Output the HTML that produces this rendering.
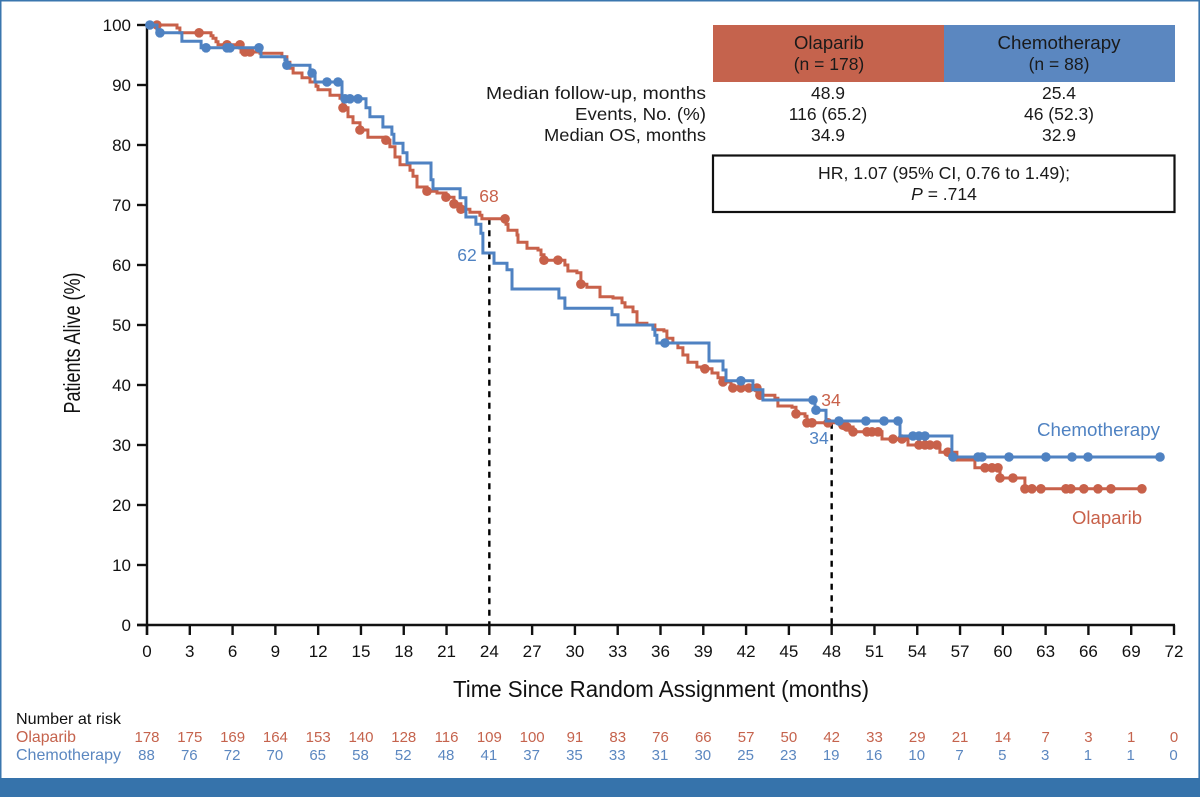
<!DOCTYPE html>
<html lang="en">
<head>
<meta charset="utf-8">
<title>Overall survival: Olaparib vs Chemotherapy</title>
<style>
html,body{margin:0;padding:0;background:#fff;}
body{width:1200px;height:797px;overflow:hidden;}
svg{display:block;font-family:"Liberation Sans",sans-serif;}
</style>
</head>
<body>
<svg id="chart" xmlns="http://www.w3.org/2000/svg" width="1200" height="797" viewBox="0 0 1200 797">
  <rect x="0" y="0" width="1200" height="797" fill="#ffffff"/>
  <rect x="0" y="0" width="1200" height="1.5" fill="#3a76ae"/>
  <rect x="0" y="0" width="1.5" height="797" fill="#3a76ae"/>
  <rect x="1198.4" y="0" width="1.6" height="797" fill="#3a76ae"/>
  <rect x="0" y="778" width="1200" height="19" fill="#3673ab"/>

  <g id="plot"></g>

  <text transform="translate(80,343) rotate(-90)" text-anchor="middle" font-size="23" textLength="141" lengthAdjust="spacingAndGlyphs" fill="#111">Patients Alive (%)</text>
  <text x="661" y="697" text-anchor="middle" font-size="23" textLength="416" lengthAdjust="spacingAndGlyphs" fill="#111">Time Since Random Assignment (months)</text>

  <g fill="#1a1a1a" text-anchor="middle">
    <rect x="713" y="25" width="231" height="57" fill="#c5634d"/>
    <rect x="944" y="25" width="231" height="57" fill="#5b87c0"/>
    <text x="829" y="49" font-size="18.5">Olaparib</text>
    <text x="829" y="70" font-size="17.5">(n = 178)</text>
    <text x="1059" y="49" font-size="18.5" textLength="123" lengthAdjust="spacingAndGlyphs">Chemotherapy</text>
    <text x="1059" y="70" font-size="17.5">(n = 88)</text>
    <text x="706" y="99" text-anchor="end" font-size="17.5" textLength="220" lengthAdjust="spacingAndGlyphs">Median follow-up, months</text>
    <text x="706" y="120" text-anchor="end" font-size="17.5" textLength="131" lengthAdjust="spacingAndGlyphs">Events, No. (%)</text>
    <text x="706" y="141" text-anchor="end" font-size="17.5" textLength="162" lengthAdjust="spacingAndGlyphs">Median OS, months</text>
    <text x="828" y="99" font-size="17.5">48.9</text>
    <text x="828" y="120" font-size="17.5">116 (65.2)</text>
    <text x="828" y="141" font-size="17.5">34.9</text>
    <text x="1059" y="99" font-size="17.5">25.4</text>
    <text x="1059" y="120" font-size="17.5">46 (52.3)</text>
    <text x="1059" y="141" font-size="17.5">32.9</text>
    <rect x="713" y="155.5" width="461.5" height="56.5" fill="#fff" stroke="#111" stroke-width="2.2"/>
    <text x="944" y="179" font-size="17.5" textLength="252" lengthAdjust="spacingAndGlyphs">HR, 1.07 (95% CI, 0.76 to 1.49);</text>
    <text x="944" y="200" font-size="17.5"><tspan font-style="italic">P</tspan> = .714</text>
  </g>

  <text x="16" y="724" font-size="16" textLength="105" lengthAdjust="spacingAndGlyphs" fill="#111">Number at risk</text>
  <text x="16" y="742" font-size="16" textLength="60" lengthAdjust="spacingAndGlyphs" fill="#c5634d">Olaparib</text>
  <text x="16" y="760" font-size="16" textLength="105" lengthAdjust="spacingAndGlyphs" fill="#5b87c0">Chemotherapy</text>
</svg>

<script>
// ---- chart data (months, % alive) ----
const xTicks = [0,3,6,9,12,15,18,21,24,27,30,33,36,39,42,45,48,51,54,57,60,63,66,69,72];
const yTicks = [0,10,20,30,40,50,60,70,80,90,100];

const olaparibTimes = [0,2.10,2.31,4.49,4.63,4.84,4.98,6.59,7.92,9.46,9.81,10.02,10.24,10.87,11.43,11.85,11.99,12.83,13.53,13.74,14.09,14.44,14.93,15.49,16.68,17.03,17.39,17.74,18.44,18.65,18.93,19.63,20.33,20.96,21.52,22.01,22.64,23.34,23.48,25.17,25.31,25.94,26.01,26.64,27.41,27.62,27.83,29.30,29.51,30.14,30.42,30.84,31.76,32.67,33.30,33.51,34.07,34.35,35.05,35.61,36.24,36.45,36.87,37.22,37.57,37.92,38.55,39.11,39.61,40.03,40.38,40.94,42.97,44.02,44.23,45.22,45.50,46.13,46.27,48.58,48.93,49.50,51.53,53.35,55.59,56.78,58.04,59.80,61.55];
const olaparibSurvival = [100,99.5,98.7,98.2,97.8,97.2,96.7,95.5,95.3,94.7,93.8,92.8,92.0,91.2,90.5,89.8,89.2,88.3,87.8,86.2,84.7,83.7,82.5,81.3,80.8,79.7,78.0,76.7,75.8,74.8,73.0,72.3,72.0,71.3,70.2,69.3,68.8,68.3,67.7,66.8,65.8,65.0,63.8,62.8,62.5,61.7,60.8,60.0,59.0,58.7,56.8,56.3,54.7,54.5,53.7,53.0,52.2,50.3,50.0,49.2,49.0,47.8,47.0,46.2,45.0,43.8,43.0,42.7,42.0,41.2,40.5,39.5,38.3,37.8,36.5,36.3,35.2,34.8,33.7,33.3,33.0,32.2,31.0,30.0,28.8,27.5,26.2,24.5,22.7];
const olaparibEnd = 69.75;
const olaparibCensored = [0.7,3.65,5.61,6.52,6.87,7.22,13.74,14.93,16.75,19.63,20.96,21.52,22.01,25.1,27.83,28.81,30.42,39.11,40.38,41.07,41.64,42.2,42.76,42.97,45.5,46.27,46.62,47.74,48.79,49.07,49.5,50.48,50.83,51.25,52.3,52.93,54.12,54.54,54.89,55.38,56.15,58.75,59.24,59.66,59.8,60.71,61.55,62.04,62.67,64.42,64.77,65.68,66.67,67.58,69.75];

const chemoTimes = [0,0.7,2.45,3.79,7.99,9.67,9.81,11.43,11.78,13.67,15.35,15.63,16.54,17.17,17.31,17.95,18.23,19.91,20.05,21.95,22.36,23.06,23.41,23.55,24.33,25.24,25.59,28.88,29.30,32.60,33.02,35.47,35.61,35.75,39.40,40.38,40.59,42.48,43.18,46.83,47.60,52.79,56.43];
const chemoSurvival = [100,98.7,97.3,96.2,94.7,94.2,93.3,92.0,90.5,87.7,86.2,84.7,83.0,81.8,80.3,78.7,77.0,74.2,72.7,71.2,68.0,66.8,65.3,62.0,60.3,59.2,56.0,54.5,52.8,51.7,50.0,49.3,48.3,47.0,44.0,42.5,40.7,39.2,37.5,35.8,34.0,31.5,28.0];
const chemoEnd = 71.02;
const chemoCensored = [0.2,0.91,4.14,5.61,5.82,7.85,9.81,11.57,12.62,13.39,13.88,14.23,14.79,36.31,41.64,46.69,46.9,48.51,50.4,51.67,52.65,53.7,54.12,54.54,56.5,58.26,58.54,60.43,63.02,64.85,65.97,71.02];

const landmarkMonths = [24,48];
const olaparibRisk = [178,175,169,164,153,140,128,116,109,100,91,83,76,66,57,50,42,33,29,21,14,7,3,1,0];
const chemoRisk = [88,76,72,70,65,58,52,48,41,37,35,33,31,30,25,23,19,16,10,7,5,3,1,1,0];

// ---- scales ----
const xScale = t => 147 + t * (1174 - 147) / 72;
const yScale = s => 625 - s * 6;
const RED = '#c8614a';
const BLUE = '#4f82c2';
const NS = 'http://www.w3.org/2000/svg';
const plot = document.getElementById('plot');
const svgRoot = document.getElementById('chart');

function make(tag, attrs, parent) {
  const el = document.createElementNS(NS, tag);
  Object.keys(attrs).forEach(k => el.setAttribute(k, attrs[k]));
  (parent || plot).appendChild(el);
  return el;
}
function survivalAt(times, surv, t) {
  let s = surv[0];
  for (let i = 0; i < times.length; i++) { if (times[i] <= t) s = surv[i]; }
  return s;
}
function stepPath(times, surv, end) {
  let d = 'M' + xScale(times[0]).toFixed(1) + ' ' + yScale(surv[0]).toFixed(1);
  for (let i = 1; i < times.length; i++) {
    d += 'H' + xScale(times[i]).toFixed(1) + 'V' + yScale(surv[i]).toFixed(1);
  }
  return d + 'H' + xScale(end).toFixed(1);
}

// ---- landmark dashed lines ----
landmarkMonths.forEach(m => {
  const line = make('line', {x1: xScale(m), x2: xScale(m), y1: yScale(survivalAt(olaparibTimes, olaparibSurvival, m)), y2: yScale(0), stroke: '#000', 'stroke-width': 2.4, 'stroke-dasharray': '6 5.5'});
  
  
});

// ---- axes ----
const yAxis = make('line', {x1: xScale(0), x2: xScale(0), y1: yScale(100), y2: yScale(0) + 10, stroke: '#111', 'stroke-width': 2.4});


const xAxis = make('line', {x1: xScale(0) - 10, x2: xScale(72) + 1, y1: yScale(0), y2: yScale(0), stroke: '#111', 'stroke-width': 2.4});



yTicks.forEach(v => {
  const tick = make('line', {x1: xScale(0) - 10, x2: xScale(0), y1: yScale(v), y2: yScale(v), stroke: '#111', 'stroke-width': 2.4});
  
  
  const label = make('text', {x: 131, y: yScale(v) + 6, 'text-anchor': 'end', 'font-size': 17, fill: '#111'});
  label.textContent = v;
  
  
});
xTicks.forEach(v => {
  const tick = make('line', {x1: xScale(v), x2: xScale(v), y1: yScale(0), y2: yScale(0) + 10, stroke: '#111', 'stroke-width': 2.4});
  
  
  const label = make('text', {x: xScale(v), y: 657, 'text-anchor': 'middle', 'font-size': 17, fill: '#111'});
  label.textContent = v;
  
  
});

// ---- series ----
const olaparibLine = make('path', {d: stepPath(olaparibTimes, olaparibSurvival, olaparibEnd), fill: 'none', stroke: RED, 'stroke-width': 3});


olaparibCensored.forEach(t => {
  const dot = make('circle', {cx: xScale(t), cy: yScale(survivalAt(olaparibTimes, olaparibSurvival, t)), r: 4.8, fill: RED});
  
  
});
const chemoLine = make('path', {d: stepPath(chemoTimes, chemoSurvival, chemoEnd), fill: 'none', stroke: BLUE, 'stroke-width': 3});


chemoCensored.forEach(t => {
  const dot = make('circle', {cx: xScale(t), cy: yScale(survivalAt(chemoTimes, chemoSurvival, t)), r: 4.8, fill: BLUE});
  
  
});

// ---- annotations ----
const a68 = make('text', {x: 489, y: 202, 'text-anchor': 'middle', 'font-size': 17.5, fill: RED});
a68.textContent = '68';


const a62 = make('text', {x: 467, y: 261, 'text-anchor': 'middle', 'font-size': 17.5, fill: BLUE});
a62.textContent = '62';


const a34r = make('text', {x: 831, y: 406, 'text-anchor': 'middle', 'font-size': 17.5, fill: RED});
a34r.textContent = '34';


const a34b = make('text', {x: 819, y: 444, 'text-anchor': 'middle', 'font-size': 17.5, fill: BLUE});
a34b.textContent = '34';


const lblChemo = make('text', {x: 1037, y: 436, 'font-size': 18.5, textLength: 123, lengthAdjust: 'spacingAndGlyphs', fill: BLUE});
lblChemo.textContent = 'Chemotherapy';


const lblOla = make('text', {x: 1072, y: 524, 'font-size': 18.5, textLength: 70, lengthAdjust: 'spacingAndGlyphs', fill: RED});
lblOla.textContent = 'Olaparib';



// ---- number at risk ----
olaparibRisk.forEach((v, i) => {
  const cell = make('text', {x: xScale(xTicks[i]), y: 742, 'text-anchor': 'middle', 'font-size': 15, fill: '#c5634d'}, svgRoot);
  cell.textContent = v;
  
  
});
chemoRisk.forEach((v, i) => {
  const cell = make('text', {x: xScale(xTicks[i]) - 0.5, y: 760, 'text-anchor': 'middle', 'font-size': 15, fill: '#5b87c0'}, svgRoot);
  cell.textContent = v;
  
  
});
</script>
</body>
</html>
